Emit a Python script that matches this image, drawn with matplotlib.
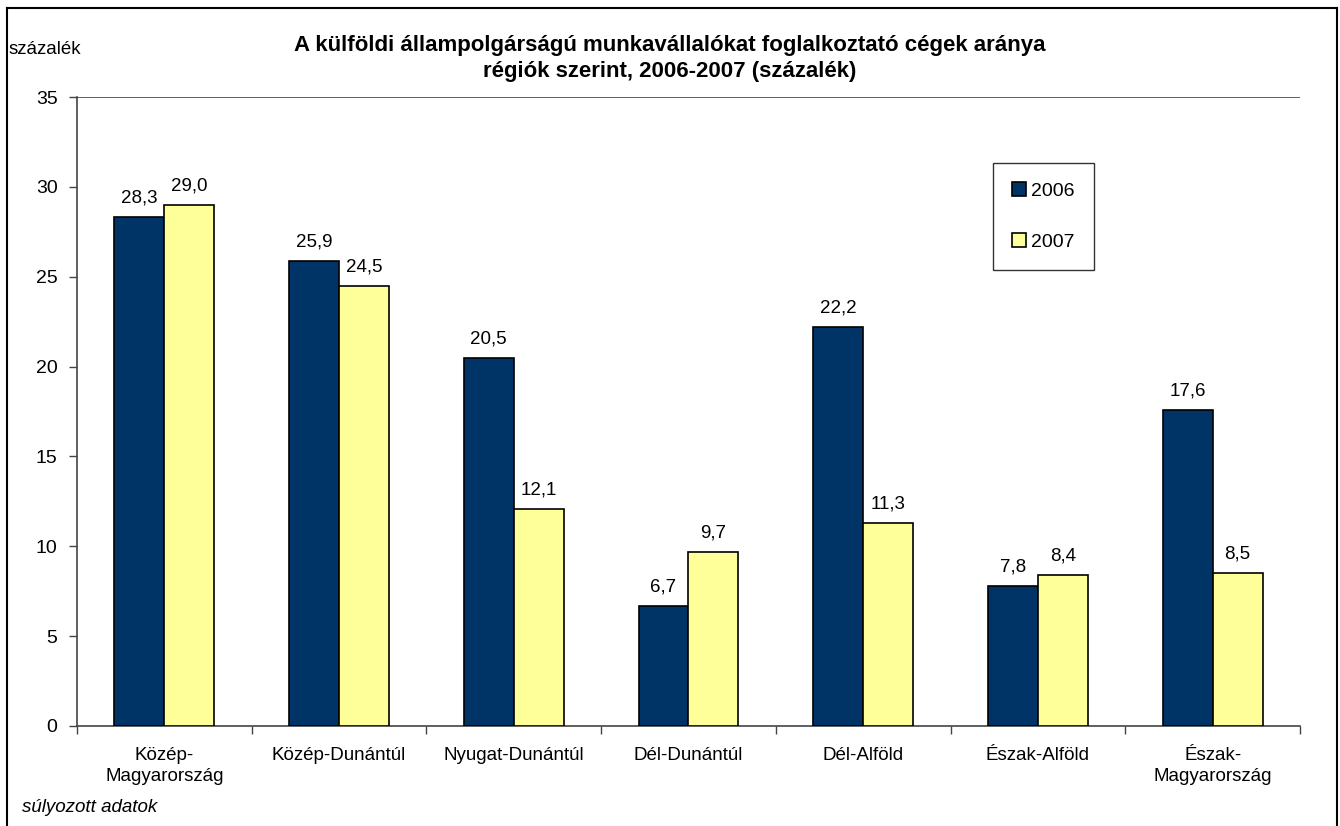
import matplotlib
matplotlib.use("Agg")
import matplotlib.pyplot as plt
import numpy as np
from matplotlib.lines import Line2D

plt.rcParams['font.family'] = ['Liberation Sans', 'DejaVu Sans']

categories = ["Közép-\nMagyarország", "Közép-Dunántúl", "Nyugat-Dunántúl",
              "Dél-Dunántúl", "Dél-Alföld", "Észak-Alföld", "Észak-\nMagyarország"]
v2006 = [28.3, 25.9, 20.5, 6.7, 22.2, 7.8, 17.6]
v2007 = [29.0, 24.5, 12.1, 9.7, 11.3, 8.4, 8.5]
labels2006 = ["28,3", "25,9", "20,5", "6,7", "22,2", "7,8", "17,6"]
labels2007 = ["29,0", "24,5", "12,1", "9,7", "11,3", "8,4", "8,5"]
series_names = ["2006", "2007"]
yticks = [0, 5, 10, 15, 20, 25, 30, 35]

FS = 13.5

fig = plt.figure(figsize=(13.4, 8.26), dpi=100)
ax = fig.add_axes([77/1340, 1-726/826, (1300-77)/1340, (726-97)/826])

x = np.arange(len(categories))
w = 0.286
b1 = ax.bar(x - w/2, v2006, w, color="#003366", edgecolor="black", linewidth=1.2, label=series_names[0], zorder=3)
b2 = ax.bar(x + w/2, v2007, w, color="#FFFF99", edgecolor="black", linewidth=1.2, label=series_names[1], zorder=3)

for rect, lab in zip(b1, labels2006):
    ax.annotate(lab, (rect.get_x() + rect.get_width()/2, rect.get_height()),
                xytext=(0, 7.5), textcoords="offset points", ha="center", va="bottom", fontsize=FS)
for rect, lab in zip(b2, labels2007):
    ax.annotate(lab, (rect.get_x() + rect.get_width()/2, rect.get_height()),
                xytext=(0, 7.5), textcoords="offset points", ha="center", va="bottom", fontsize=FS)

ax.set_xlim(-0.5, len(categories) - 0.5)
ax.set_ylim(0, 35)
ax.set_yticks(yticks)
ax.set_yticklabels([str(t) for t in yticks], fontsize=14)
ax.set_xticks(x)
ax.set_xticklabels(categories, fontsize=FS, linespacing=1.35)
ax.tick_params(axis='x', length=0, pad=15)
# boundary ticks on x axis
ax.set_xticks(np.arange(-0.5, len(categories)), minor=True)
ax.tick_params(axis='x', which='minor', length=6, width=1, color="#444444")
ax.tick_params(axis='y', length=6, width=1, color="#444444", pad=8)

ax.grid(False)
for side in ["top", "right"]:
    ax.spines[side].set_visible(False)
for side in ["left", "bottom"]:
    ax.spines[side].set_color("#444444")
    ax.spines[side].set_linewidth(1.2)
ax.axhline(35, color="#444444", linewidth=1.2, zorder=1)

leg = fig.legend(handles=[b1, b2], labels=series_names, loc="upper left",
                 bbox_to_anchor=(993/1340, 1-163/826), fontsize=14, frameon=True,
                 fancybox=False, edgecolor="black", labelspacing=1.7,
                 handlelength=0.7, handleheight=0.7, handletextpad=0.25,
                 borderpad=1.0, borderaxespad=0)
leg.get_frame().set_linewidth(1.0)

fig.text(670/1340, 1-45/826, "A külföldi állampolgárságú munkavállalókat foglalkoztató cégek aránya",
         ha="center", va="center", fontsize=16, fontweight="bold")
fig.text(670/1340, 1-72/826, "régiók szerint, 2006-2007 (százalék)",
         ha="center", va="center", fontsize=16, fontweight="bold")
fig.text(9/1340, 1-49/826, "százalék", ha="left", va="center", fontsize=FS)
fig.text(22/1340, 1-808/826, "súlyozott adatok", ha="left", va="center", fontsize=FS, style="italic")

# figure border
for xs, ys in [([7/1340, 7/1340], [0, 1-8/826]),
               ([7/1340, 1337/1340], [1-8/826, 1-8/826]),
               ([1337/1340, 1337/1340], [1-8/826, 0])]:
    fig.add_artist(Line2D(xs, ys, color="black", linewidth=1.5, transform=fig.transFigure))

fig.savefig("out.png", dpi=100, facecolor="white")
